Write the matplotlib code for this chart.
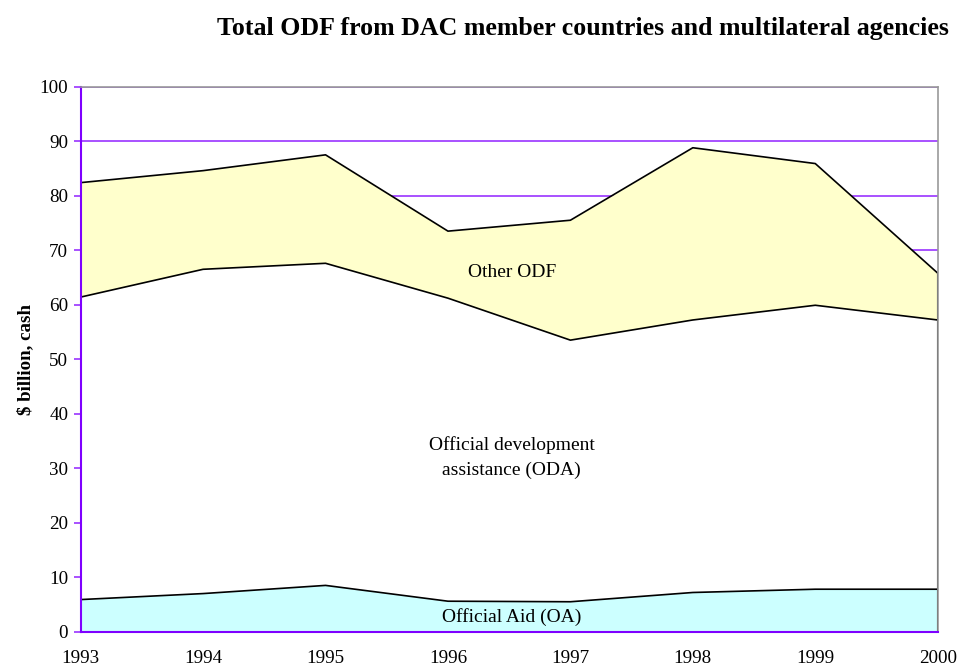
import matplotlib.pyplot as plt

years = [1993, 1994, 1995, 1996, 1997, 1998, 1999, 2000]
oa = [5.9, 7.0, 8.5, 5.6, 5.5, 7.2, 7.8, 7.8]
oda_top = [61.4, 66.5, 67.6, 61.2, 53.5, 57.2, 59.9, 57.2]
odf_top = [82.4, 84.6, 87.5, 73.5, 75.5, 88.8, 85.9, 65.8]

plt.rcParams['font.family'] = ['Liberation Serif', 'DejaVu Serif']

fig = plt.figure(figsize=(9.58, 6.68), dpi=100)
ax = fig.add_axes([0.0842, 0.0543, 0.8946, 0.8159])

purple = '#9933ff'
ax.set_axisbelow(True)
ax.yaxis.grid(True, color=purple, linewidth=1.2)

ax.fill_between(years, oda_top, odf_top, color='#ffffcc', linewidth=0)
ax.fill_between(years, oa, oda_top, color='white', linewidth=0)
ax.fill_between(years, 0, oa, color='#ccffff', linewidth=0)

ax.plot(years, odf_top, color='black', linewidth=1.2)
ax.plot(years, oda_top, color='black', linewidth=1.2)
ax.plot(years, oa, color='black', linewidth=1.2)
ax.plot([years[-1], years[-1]], [0, odf_top[-1]], color='black', linewidth=1.5)

ax.set_xlim(years[0], years[-1])
ax.set_ylim(0, 100)
ax.set_yticks(range(0, 101, 10))
ax.set_xticks(years)

for side in ['left', 'bottom']:
    ax.spines[side].set_color('#7f00ff')
    ax.spines[side].set_linewidth(1.5)
for side in ['top', 'right']:
    ax.spines[side].set_color('#999999')
    ax.spines[side].set_linewidth(1.2)

ax.tick_params(axis='y', colors=purple, labelcolor='black', length=5, width=1.2,
               labelsize=13.7, pad=4)
ax.tick_params(axis='x', length=0, labelsize=13.7, pad=13)

ax.set_ylabel('$ billion, cash', fontsize=13.6, fontweight='bold', labelpad=4)

ax.text(1996.52, 66.0, 'Other ODF', ha='center', va='center', fontsize=14)
ax.text(1996.52, 32.0, 'Official development\nassistance (ODA)', ha='center',
        va='center', fontsize=14, linespacing=1.6)
ax.text(1996.52, 2.7, 'Official Aid (OA)', ha='center', va='center', fontsize=14)

fig.text(0.608, 0.958, 'Total ODF from DAC member countries and multilateral agencies',
         ha='center', va='center', fontsize=18.6, fontweight='bold')

fig.savefig('out.png', dpi=100)
